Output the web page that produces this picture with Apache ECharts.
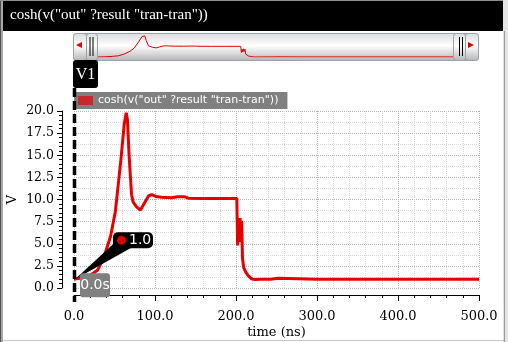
<!DOCTYPE html>
<html>
<head>
<meta charset="utf-8">
<script src="https://cdn.jsdelivr.net/npm/echarts@6/dist/echarts.min.js"></script>
<style>
html,body{margin:0;padding:0;background:#fff;}
#c{width:508px;height:342px;}
</style>
</head>
<body>
<div id="c"></div>
<script>
// ---- data ----
const seriesName = 'cosh(v("out" ?result "tran-tran"))';
const timeNs = [0, 10, 20, 29, 37, 45, 51, 58, 62, 64.5, 66, 68, 71, 73, 77, 82, 87, 92, 96, 101, 108, 120, 128, 137, 141, 160, 180, 201, 202, 203, 204, 205, 206, 207, 208, 209.5, 212, 215, 219, 223, 230, 243, 245, 252, 254, 300, 400, 500];
const voltage = [1.0, 1.15, 1.45, 2.0, 3.5, 5.8, 8.6, 14.6, 18.5, 19.8, 19.0, 15.0, 10.6, 9.7, 9.2, 8.8, 9.6, 10.4, 10.55, 10.35, 10.25, 10.2, 10.3, 10.3, 10.15, 10.1, 10.1, 10.1, 4.8, 7.6, 5.2, 7.9, 5.8, 7.6, 3.4, 2.3, 1.8, 1.4, 1.05, 0.95, 1.0, 1.0, 1.1, 1.1, 1.0, 1.0, 1.0, 1.0];
const xTickValues = [0, 100, 200, 300, 400, 500];
const yTickValues = [0, 2.5, 5, 7.5, 10, 12.5, 15, 17.5, 20];
const markerLabel = 'V1';
const markerTimeLabel = '0.0s';

const pts = timeNs.map((t, i) => [t, voltage[i]]);
const chart = echarts.init(document.getElementById('c'), null, {renderer: 'canvas'});

const serif = 'DejaVu Serif';
const option = {
  animation: false,
  backgroundColor: '#ffffff',
  title: {
    text: seriesName,
    left: 6, top: 8,
    padding: [0, 4],
    textStyle: {color: '#ffffff', fontFamily: 'Liberation Serif', fontSize: 15, fontWeight: 'normal'}
  },
  legend: {
    data: [seriesName],
    left: 74, top: 92,
    backgroundColor: '#808080',
    padding: [3, 9, 3, 4],
    itemWidth: 15, itemHeight: 9, itemGap: 0,
    icon: 'rect',
    selectedMode: false,
    textStyle: {color: '#ffffff', fontFamily: 'DejaVu Sans', fontSize: 11, padding: [0, 0, 0, 0]}
  },
  grid: [
    {left: 74, right: 29, top: 111, bottom: 54, containLabel: false, outerBoundsMode: 'none'},
    {left: 98, width: 355, top: 35, height: 22, containLabel: false, outerBoundsMode: 'none'}
  ],
  xAxis: [
    {
      type: 'value', gridIndex: 0, min: xTickValues[0], max: xTickValues[xTickValues.length - 1],
      interval: xTickValues[1] - xTickValues[0], offset: 7,
      axisLine: {show: true, onZero: false, lineStyle: {color: '#000', width: 1}},
      axisTick: {show: true, length: 6, lineStyle: {color: '#000'}},
      minorTick: {show: true, splitNumber: 5, length: 3, lineStyle: {color: '#000'}},
      axisLabel: {color: '#000', fontFamily: serif, fontSize: 13, margin: 15, formatter: v => v.toFixed(1)},
      splitLine: {show: true, lineStyle: {color: '#b4b4b4', type: 'dotted', width: 1}},
      minorSplitLine: {show: true, lineStyle: {color: '#d8d8d8', type: 'dotted', width: 1}},
      name: 'time (ns)', nameLocation: 'middle', nameGap: 31, nameMoveOverlap: false,
      nameTextStyle: {color: '#000', fontFamily: serif, fontSize: 13}
    },
    {type: 'value', gridIndex: 1, min: 0, max: 500, show: false}
  ],
  yAxis: [
    {
      type: 'value', gridIndex: 0, min: yTickValues[0], max: yTickValues[yTickValues.length - 1],
      interval: yTickValues[1] - yTickValues[0], offset: 12,
      axisLine: {show: true, onZero: false, lineStyle: {color: '#000', width: 1}},
      axisTick: {show: true, length: 5, lineStyle: {color: '#000'}},
      minorTick: {show: true, splitNumber: 5, length: 3, lineStyle: {color: '#000'}},
      axisLabel: {color: '#000', fontFamily: serif, fontSize: 12.5, margin: 8, formatter: v => v.toFixed(1)},
      splitLine: {show: true, lineStyle: {color: '#b4b4b4', type: 'dotted', width: 1}},
      minorSplitLine: {show: false},
      name: 'V', nameLocation: 'middle', nameGap: 43, nameRotate: 90, nameMoveOverlap: false,
      nameTextStyle: {color: '#000', fontFamily: serif, fontSize: 13}
    },
    {
      type: 'value', gridIndex: 0, min: yTickValues[0], max: yTickValues[yTickValues.length - 1],
      interval: yTickValues[1] - yTickValues[0],
      axisLine: {show: false}, axisTick: {show: false}, axisLabel: {show: false},
      splitLine: {show: false},
      minorTick: {show: false, splitNumber: 2},
      minorSplitLine: {show: true, lineStyle: {color: '#d8d8d8', type: 'dotted', width: 1}}
    },
    {type: 'value', gridIndex: 1, min: 'dataMin', max: 'dataMax', show: false}
  ],
  series: [
    {
      name: seriesName, type: 'line', xAxisIndex: 0, yAxisIndex: 0,
      data: pts, showSymbol: false, symbol: 'none', z: 3,
      lineStyle: {color: '#e60000', width: 3},
      itemStyle: {color: '#c8282d'}
    },
    {
      name: 'overview', type: 'line', xAxisIndex: 1, yAxisIndex: 2,
      data: pts, showSymbol: false, symbol: 'none', silent: true, z: 3,
      lineStyle: {color: '#e00000', width: 1}
    }
  ]
};
chart.setOption(option);

// ---- chrome & marker annotations ----
const p = chart.convertToPixel({gridIndex: 0}, pts[0]);
const mx = Math.round(p[0]), my = p[1];
const gradV = (a, b, c) => new echarts.graphic.LinearGradient(0, 0, 0, 1, [
  {offset: 0, color: a}, {offset: 0.45, color: b}, {offset: 1, color: c}]);

const g = [];
// window frame
g.push({type: 'rect', shape: {x: 0, y: 0, width: 1, height: 342}, style: {fill: '#505050'}, z: 0});
g.push({type: 'rect', shape: {x: 1, y: 0, width: 2, height: 342}, style: {fill: '#a8a8a8'}, z: 0});
g.push({type: 'rect', shape: {x: 0, y: 0, width: 508, height: 1}, style: {fill: '#909090'}, z: 0});
g.push({type: 'rect', shape: {x: 3, y: 1, width: 500, height: 30}, style: {fill: '#000000'}, z: 0});
g.push({type: 'rect', shape: {x: 503, y: 0, width: 5, height: 342}, style: {fill: '#e4e4e4'}, z: 0});
g.push({type: 'line', shape: {x1: 504.5, y1: 31, x2: 504.5, y2: 342}, style: {stroke: '#9a9a9a', lineWidth: 1}, z: 0});
g.push({type: 'line', shape: {x1: 3, y1: 340.5, x2: 504, y2: 340.5}, style: {stroke: '#c8c8c8', lineWidth: 1}, z: 0});

// overview slider chrome
const sFill = gradV('#dcdcdc', '#ffffff', '#b4b4b4');
g.push({type: 'rect', shape: {x: 73.5, y: 33.5, width: 405, height: 27, r: 3}, style: {fill: sFill, stroke: '#9aa2ac', lineWidth: 1}, z: 1});
g.push({type: 'rect', shape: {x: 73.5, y: 33.5, width: 13, height: 27, r: 3}, style: {fill: sFill, stroke: '#9aa2ac', lineWidth: 1}, z: 1});
g.push({type: 'rect', shape: {x: 465.5, y: 33.5, width: 13, height: 27, r: 3}, style: {fill: sFill, stroke: '#9aa2ac', lineWidth: 1}, z: 1});
g.push({type: 'rect', shape: {x: 86.5, y: 33.5, width: 11, height: 27, r: 3}, style: {fill: sFill, stroke: '#9aa2ac', lineWidth: 1}, z: 1});
g.push({type: 'rect', shape: {x: 453.5, y: 33.5, width: 12, height: 27, r: 3}, style: {fill: sFill, stroke: '#9aa2ac', lineWidth: 1}, z: 1});
g.push({type: 'polygon', shape: {points: [[76, 45], [82, 42], [82, 48]]}, style: {fill: '#e00000'}, z: 2});
g.push({type: 'polygon', shape: {points: [[474, 45], [468, 42], [468, 48]]}, style: {fill: '#e00000'}, z: 2});
[90, 93, 459.5, 462.5].forEach(x => g.push({type: 'line', shape: {x1: x, y1: 37, x2: x, y2: 56}, style: {stroke: '#000', lineWidth: 1}, z: 2}));

// cursor V1
g.push({type: 'rect', shape: {x: mx - 1, y: 60, width: 25, height: 28, r: 3}, style: {fill: '#000'}, z: 10});
g.push({type: 'text', style: {text: markerLabel, x: mx + 11.5, y: 75, fill: '#fff', font: '16px "Liberation Serif"', align: 'center', verticalAlign: 'middle'}, z: 11});
g.push({type: 'line', shape: {x1: mx + 0.5, y1: 88, x2: mx + 0.5, y2: 302}, style: {stroke: '#000', lineWidth: 3.5, lineDash: [9, 4]}, z: 10});

// value bubble at cursor/curve intersection
g.push({type: 'polygon', shape: {points: [[mx + 39, my - 35], [mx + 60, my - 33], [mx + 1, my]]}, style: {fill: '#000'}, z: 12});
g.push({type: 'rect', shape: {x: mx + 39, y: my - 47, width: 40, height: 16, r: 5}, style: {fill: '#000'}, z: 12});
g.push({type: 'circle', shape: {cx: mx + 47.5, cy: my - 39, r: 4.5}, style: {fill: '#e00000'}, z: 13});
g.push({type: 'text', style: {text: voltage[0].toFixed(1), x: mx + 55, y: my - 39, fill: '#fff', font: '14px "DejaVu Sans"', align: 'left', verticalAlign: 'middle'}, z: 13});
g.push({type: 'rect', shape: {x: mx + 6, y: my - 6, width: 30, height: 24, r: 3}, style: {fill: '#808080'}, z: 12});
g.push({type: 'text', style: {text: markerTimeLabel, x: mx + 21, y: my + 6, fill: '#fff', font: '14px "DejaVu Sans"', align: 'center', verticalAlign: 'middle'}, z: 13});

chart.setOption({graphic: {elements: g}});
</script>
</body>
</html>
